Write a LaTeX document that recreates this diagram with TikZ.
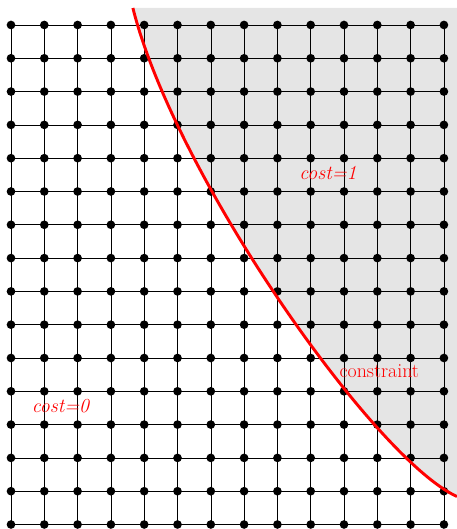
\documentclass[tikz,border=0pt]{standalone}
\begin{document}
\begin{tikzpicture}[x=1cm,y=1cm,
  gridline/.style={line width=0.5pt,black},
  dot/.style={circle,fill=black,inner sep=0pt,minimum size=0.26cm},
  lbl/.style={text=red,font=\fontsize{17}{20}\selectfont},
  cons/.style={red,line width=2.5pt}]
\useasboundingbox (-0.33,-0.135) rectangle (13.39,15.75);
\coordinate (top) at (3.66,15.51);
\coordinate (end) at (13.39,0.84);
\path[fill=black!10] (top) .. controls (4.91,10.51) and (10.89,1.99) .. (end) -- (13.39,15.51) -- cycle;
\foreach \j in {0,...,15} \draw[gridline] (0,\j) -- (13,\j);
\foreach \i in {0,...,13} \draw[gridline] (\i,0) -- (\i,15);
\foreach \i in {0,...,13} \foreach \j in {0,...,15} \node[dot] (d-\i-\j) at (\i,\j) {};
\draw[cons] (top) .. controls (4.91,10.51) and (10.89,1.99) .. (end);
\node[lbl] (c1) at (9.52,10.56) {\textit{cost=1}};
\node[lbl] (c0) at (1.5,3.56) {\textit{cost=0}};
\node[lbl] (cn) at (11.06,4.6) {constraint};
\end{tikzpicture}
\end{document}
